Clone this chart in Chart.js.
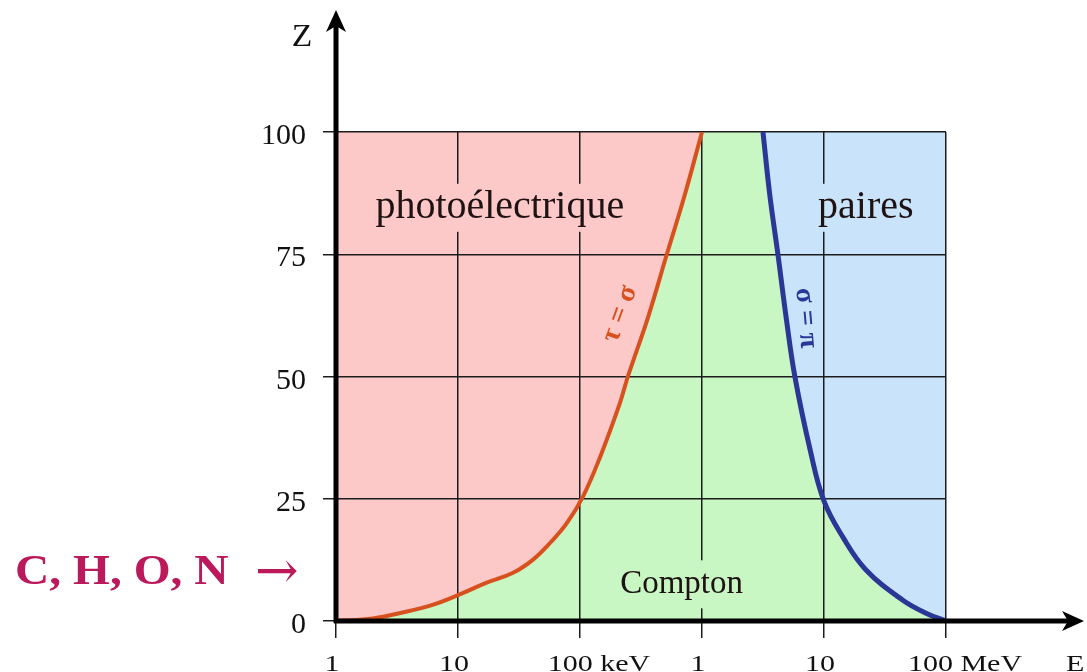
<!DOCTYPE html>
<html>
<head>
<meta charset="utf-8">
<script src="https://cdn.jsdelivr.net/npm/chart.js@4/dist/chart.umd.min.js"></script>
<style>
  html, body { margin: 0; padding: 0; background: #fff; }
  #wrap { width: 1087px; height: 672px; }
</style>
</head>
<body>
<div id="wrap"><canvas id="myChart" width="1087" height="672"></canvas></div>
<script>
// énergie en keV, Z sans unité
const xTickValues = [1, 10, 100, 1000, 10000, 100000];
const xTickLabels = ['1', '10', '100 keV', '1', '10', '100 MeV'];
const yTickValues = [0, 25, 50, 75, 100];

// frontière tau = sigma (photoélectrique / Compton)
const photoEnergy = [1, 2, 3.3, 6, 10, 17, 28, 41, 57, 78, 106, 146, 212, 247, 360, 515, 720, 1000];
const photoZ = [0, 0.5, 1.6, 3.2, 5.3, 7.8, 9.8, 12.5, 16, 20, 25.5, 33.5, 44.5, 50, 62, 75, 87, 100];

// frontière sigma = pi (Compton / paires)
const pairEnergy = [3160, 3600, 4190, 4900, 5770, 7700, 10000, 14400, 22000, 44000, 70000, 100000];
const pairZ = [100, 87, 75, 62, 50, 35, 24.5, 17, 10.5, 4.3, 1.5, 0];

// fond Compton : tout le domaine
const comptonEnergy = [1, 100000];
const comptonZ = [100, 100];

const pink = '#fcc8c8';
const green = '#c9f7c4';
const blue = '#c9e4fa';

function toPoints(xs, ys) {
    return xs.map((x, i) => ({ x: x, y: ys[i] }));
}

function arrowHead(ctx, x, y, dir) {
    ctx.save();
    ctx.translate(x, y);
    if (dir === 'up') ctx.rotate(-Math.PI / 2);
    ctx.beginPath();
    ctx.moveTo(0, 0);
    ctx.lineTo(-22, -10);
    ctx.lineTo(-16, 0);
    ctx.lineTo(-22, 10);
    ctx.closePath();
    ctx.fillStyle = '#000';
    ctx.fill();
    ctx.restore();
}

function boxedText(ctx, text, x, y, font, bg) {
    ctx.font = font;
    const w = ctx.measureText(text).width;
    ctx.fillStyle = bg;
    ctx.fillRect(x - w / 2 - 6, y - 24, w + 12, 48);
    ctx.fillStyle = '#1e1212';
    ctx.textAlign = 'center';
    ctx.textBaseline = 'middle';
    ctx.fillText(text, x, y);
}

function rotatedText(ctx, text, x, y, angle, font, color) {
    ctx.save();
    ctx.translate(x, y);
    ctx.rotate(angle * Math.PI / 180);
    ctx.font = font;
    ctx.fillStyle = color;
    ctx.textAlign = 'center';
    ctx.textBaseline = 'middle';
    ctx.fillText(text, 0, 0);
    ctx.restore();
}

// texte élargi horizontalement, comme dans l'image d'origine
function wideText(ctx, text, x, y, font, sx, align) {
    ctx.save();
    ctx.translate(x, y);
    ctx.scale(sx, 1);
    ctx.font = font;
    ctx.textAlign = align;
    ctx.textBaseline = 'alphabetic';
    ctx.fillText(text, 0, 0);
    ctx.restore();
}

const decorPlugin = {
    id: 'decor',
    afterDraw(chart) {
        const ctx = chart.ctx;
        const a = chart.chartArea;
        const xs = chart.scales.x;
        const ys = chart.scales.y;

        // noms des domaines
        boxedText(ctx, 'photoélectrique', xs.getPixelForValue(22), ys.getPixelForValue(84.5), '40px "Liberation Serif"', pink);
        boxedText(ctx, 'paires', xs.getPixelForValue(22000), ys.getPixelForValue(84.5), '40px "Liberation Serif"', blue);
        boxedText(ctx, 'Compton', xs.getPixelForValue(680), ys.getPixelForValue(7.5), '33px "Liberation Serif"', green);

        rotatedText(ctx, 'τ = σ', 620, 314, -70, 'bold 28px "Liberation Serif"', '#d9501f');
        rotatedText(ctx, 'σ = π', 806, 318, 85, 'bold 28px "Liberation Serif"', '#2b3796');

        // graduations
        ctx.fillStyle = '#111';
        ctx.font = '30px "Liberation Serif"';
        ctx.textBaseline = 'alphabetic';
        ctx.textAlign = 'right';
        yTickValues.forEach(v => {
            ctx.fillText(String(v), 306, ys.getPixelForValue(v) + 12);
        });
        xTickValues.forEach((v, i) => {
            const lab = xTickLabels[i];
            const shift = lab.length > 3 ? 19 : -4;
            wideText(ctx, lab, xs.getPixelForValue(v) + shift, 671, '24px "Liberation Serif"', 1.25, 'center');
        });

        // axes avec flèches
        ctx.save();
        ctx.strokeStyle = '#000';
        ctx.lineWidth = 5;
        ctx.beginPath();
        ctx.moveTo(a.left, a.bottom + 2);
        ctx.lineTo(a.left, 26);
        ctx.stroke();
        ctx.beginPath();
        ctx.moveTo(a.left - 2, a.bottom);
        ctx.lineTo(1068, a.bottom);
        ctx.stroke();
        ctx.restore();
        arrowHead(ctx, a.left, 10, 'up');
        arrowHead(ctx, 1084, a.bottom, 'right');

        ctx.fillStyle = '#111';
        wideText(ctx, 'Z', 302, 46, '32px "Liberation Serif"', 1.05, 'center');
        wideText(ctx, 'E', 1066, 671, '24px "Liberation Serif"', 1.25, 'left');

        ctx.fillStyle = '#bb195b';
        wideText(ctx, 'C, H, O, N', 15, 584, 'bold 42px "Liberation Serif"', 1.13, 'left');
        ctx.font = '52px "DejaVu Serif"';
        ctx.textAlign = 'left';
        ctx.fillText('→', 255, 588);
    }
};

const ctx = document.getElementById('myChart').getContext('2d');
const myChart = new Chart(ctx, {
    type: 'line',
    data: {
        datasets: [
            {
                label: 'photoélectrique',
                data: toPoints(photoEnergy, photoZ),
                borderColor: '#d9501f',
                borderWidth: 4,
                backgroundColor: pink,
                fill: 'end',
                pointRadius: 0,
                tension: 0.4,
                order: 1
            },
            {
                label: 'paires',
                data: toPoints(pairEnergy, pairZ),
                borderColor: '#2b3796',
                borderWidth: 5,
                backgroundColor: blue,
                fill: 'end',
                pointRadius: 0,
                tension: 0.4,
                order: 2
            },
            {
                label: 'Compton',
                data: toPoints(comptonEnergy, comptonZ),
                borderWidth: 0,
                borderColor: 'rgba(0,0,0,0)',
                backgroundColor: green,
                fill: 'origin',
                pointRadius: 0,
                order: 3
            }
        ]
    },
    options: {
        responsive: false,
        animation: false,
        layout: { padding: { left: 336, right: 141, top: 132, bottom: 51 } },
        plugins: {
            legend: { display: false },
            tooltip: { enabled: false },
            filler: { drawTime: 'beforeDraw' }
        },
        scales: {
            x: {
                type: 'logarithmic',
                min: 1,
                max: 100000,
                afterBuildTicks: s => { s.ticks = xTickValues.map(v => ({ value: v })); },
                afterFit: s => { s.height = 0; },
                border: { display: false },
                grid: { color: '#1c1c1c', lineWidth: 1.5, tickLength: 17 },
                ticks: { display: false }
            },
            y: {
                min: 0,
                max: 100,
                afterBuildTicks: s => { s.ticks = yTickValues.map(v => ({ value: v })); },
                afterFit: s => { s.width = 0; },
                border: { display: false },
                grid: { color: '#1c1c1c', lineWidth: 1.5, tickLength: 13 },
                ticks: { display: false }
            }
        }
    },
    plugins: [decorPlugin]
});
</script>
</body>
</html>
